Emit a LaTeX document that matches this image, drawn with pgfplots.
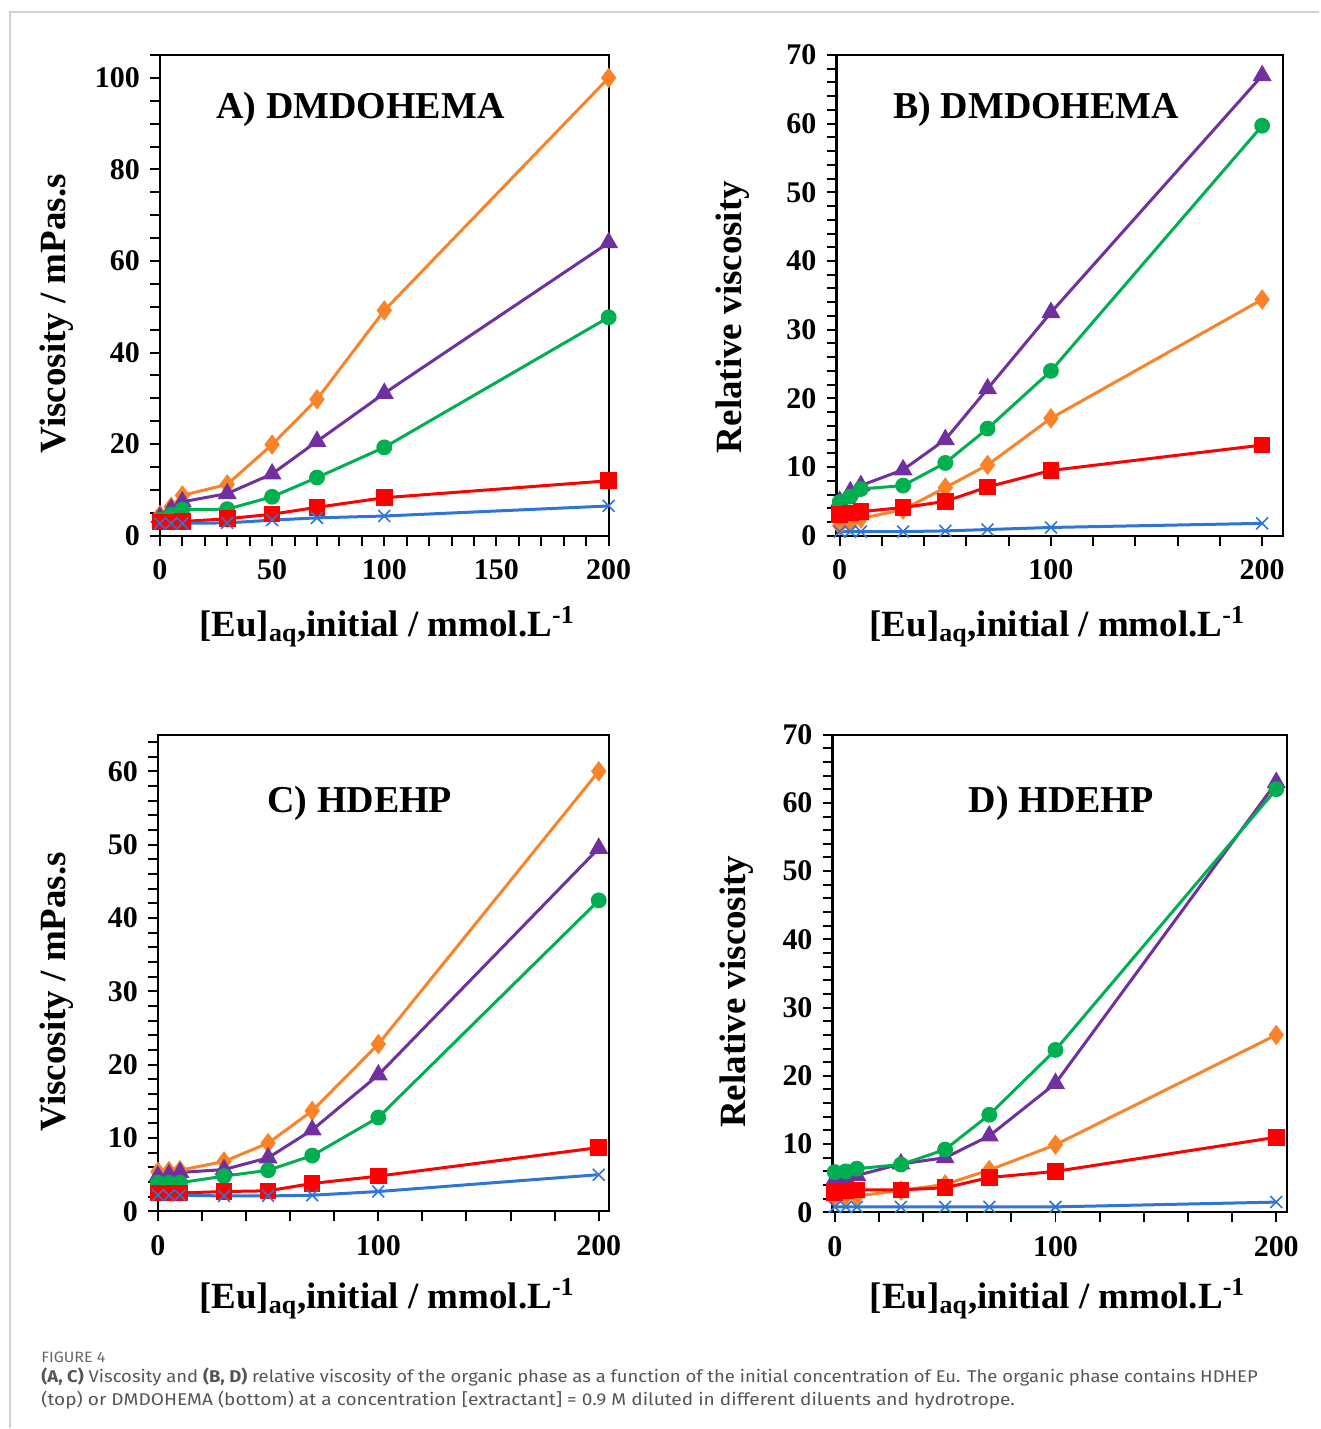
\documentclass[border=0pt]{standalone}
\usepackage{pgfplots}
\pgfplotsset{compat=1.18}
\usepackage{fontspec}
\setmainfont{Liberation Serif}
\newfontfamily\capfont{Fira Sans}

\definecolor{cOr}{RGB}{250,130,40}
\definecolor{cPu}{RGB}{112,48,160}
\definecolor{cGr}{RGB}{0,176,80}
\definecolor{cRe}{RGB}{255,0,0}
\definecolor{cBl}{RGB}{46,117,214}
\definecolor{capgray}{RGB}{85,85,85}

\pgfplotsset{
  panel/.style={
    scale only axis, anchor=south west, clip=false,
    tick align=outside, tick pos=left,
    major tick length=5pt, minor tick length=5pt,
    every tick/.style={black, line width=1pt},
    axis line style={line width=1.1pt},
    ymin=0,
    tick label style={font=\fontsize{15}{15}\selectfont\bfseries},
    xticklabel style={yshift=-3.5pt},
    yticklabel style={xshift=-1.5pt},
    /pgf/number format/assume math mode=true,
    label style={font=\fontsize{18.5}{18.5}\selectfont\bfseries},
    every axis plot/.append style={line width=1.5pt},
  },
  sOr/.style={color=cOr, mark=diamond*, mark size=3.9pt},
  sPu/.style={color=cPu, mark=triangle*, mark size=4pt},
  sGr/.style={color=cGr, mark=*, mark size=3.2pt},
  sRe/.style={color=cRe, mark=square*, mark size=3.4pt},
  sBl/.style={color=cBl, mark=x, mark size=4.2pt, mark options={line width=0.8pt}},
}

\newcommand{\xlab}{[Eu]\textsubscript{aq},initial / mmol.L\textsuperscript{-1}}
\newcommand{\ttl}{\fontsize{19}{19}\selectfont\bfseries}

\begin{document}
\begin{tikzpicture}
\path (0,0) rectangle (660pt,-714.5pt);
\draw[color=black!18, line width=0.8pt] (5pt,-714.5pt) -- (5pt,-6pt) -- (660pt,-6pt);

% (A) viscosity, DMDOHEMA
\begin{axis}[panel, at={(80pt,-268pt)}, width=224.5pt, height=240.5pt,
  xmin=0, xmax=200, ymax=105,
  xtick={0,50,...,200}, minor x tick num=4,
  ytick={0,20,...,100}, minor ytick={0,5,...,105},
  xlabel={\xlab}, ylabel={Viscosity / mPas.s},
  xlabel style={at={(axis description cs:0.506,-0.19)}, anchor=center},
  ylabel style={at={(axis description cs:-0.229,0.462)}, anchor=center},
]
\addplot[sOr] coordinates {(0,4.5)(5,6.3)(10,8.8)(30,11.2)(50,19.9)(70,29.8)(100,49.2)(200,100)};
\addplot[sPu] coordinates {(0,4)(5,5.8)(10,7.4)(30,9.2)(50,13.5)(70,20.6)(100,31.1)(200,64)};
\addplot[sGr] coordinates {(0,3.5)(5,4.6)(10,5.7)(30,5.8)(50,8.5)(70,12.7)(100,19.3)(200,47.7)};
\addplot[sRe] coordinates {(0,3)(5,3)(10,3.1)(30,3.7)(50,4.7)(70,6.2)(100,8.3)(200,12)};
\addplot[sBl] coordinates {(0,2.7)(5,2.7)(10,2.7)(30,2.8)(50,3.4)(70,3.9)(100,4.3)(200,6.5)};
\node[font=\ttl] at (axis description cs:0.447,0.887) {A) DMDOHEMA};
\end{axis}

% (B) relative viscosity, DMDOHEMA
\begin{axis}[panel, at={(418.5pt,-268pt)}, width=223.5pt, height=240.5pt,
  xmin=-1.5, xmax=210, ymax=70,
  xtick={0,100,200}, minor x tick num=4,
  ytick={0,10,...,70}, minor y tick num=4,
  xlabel={\xlab}, ylabel={Relative viscosity},
  xlabel style={at={(axis description cs:0.494,-0.19)}, anchor=center},
  ylabel style={at={(axis description cs:-0.233,0.455)}, anchor=center},
]
\addplot[sOr] coordinates {(0,1.5)(5,1.8)(10,2.5)(30,3.8)(50,7)(70,10.3)(100,17.1)(200,34.4)};
\addplot[sPu] coordinates {(0,5)(5,6.4)(10,7.3)(30,9.6)(50,14)(70,21.4)(100,32.5)(200,67)};
\addplot[sGr] coordinates {(0,4.9)(5,5.7)(10,6.8)(30,7.3)(50,10.6)(70,15.6)(100,24)(200,59.7)};
\addplot[sRe] coordinates {(0,3.1)(5,3.3)(10,3.5)(30,4.1)(50,5)(70,7.1)(100,9.5)(200,13.2)};
\addplot[sBl] coordinates {(0,0.6)(5,0.6)(10,0.6)(30,0.6)(50,0.7)(70,0.9)(100,1.2)(200,1.8)};
\node[font=\ttl] at (axis description cs:0.447,0.887) {B) DMDOHEMA};
\end{axis}

% (C) viscosity, HDEHP
\begin{axis}[panel, at={(79pt,-606pt)}, width=225.5pt, height=238.5pt,
  xmin=0, xmax=204.5, ymax=65,
  xtick={0,100,200}, minor x tick num=4,
  ytick={0,10,...,60}, minor ytick={0,2,...,64},
  xlabel={\xlab}, ylabel={Viscosity / mPas.s},
  xlabel style={at={(axis description cs:0.508,-0.183)}, anchor=center},
  ylabel style={at={(axis description cs:-0.224,0.461)}, anchor=center},
]
\addplot[sOr] coordinates {(0,5.4)(5,5.5)(10,5.6)(30,6.8)(50,9.3)(70,13.7)(100,22.8)(200,60)};
\addplot[sPu] coordinates {(0,4.8)(5,5)(10,5.3)(30,5.7)(50,7.3)(70,11.1)(100,18.6)(200,49.5)};
\addplot[sGr] coordinates {(0,3.9)(5,3.9)(10,3.9)(30,4.8)(50,5.6)(70,7.6)(100,12.8)(200,42.4)};
\addplot[sRe] coordinates {(0,2.5)(5,2.5)(10,2.5)(30,2.7)(50,2.8)(70,3.8)(100,4.8)(200,8.7)};
\addplot[sBl] coordinates {(0,2.2)(5,2.2)(10,2.2)(30,2.1)(50,2.1)(70,2.2)(100,2.7)(200,5)};
\node[font=\ttl] at (axis description cs:0.448,0.855) {C) HDEHP};
\end{axis}

% (D) relative viscosity, HDEHP
\begin{axis}[panel, at={(416.5pt,-606.5pt)}, width=227.5pt, height=239pt,
  xmin=-1, xmax=205, ymax=70,
  xtick={0,100,200}, minor x tick num=4,
  ytick={0,10,...,70}, minor y tick num=4,
  xlabel={\xlab}, ylabel={Relative viscosity},
  xlabel style={at={(axis description cs:0.495,-0.181)}, anchor=center},
  ylabel style={at={(axis description cs:-0.211,0.462)}, anchor=center},
]
\addplot[sOr] coordinates {(0,2.4)(5,2.4)(10,2.4)(30,3.2)(50,4.1)(70,6.2)(100,9.9)(200,26)};
\addplot[sPu] coordinates {(0,4.8)(5,5)(10,5.4)(30,7.1)(50,8)(70,11.2)(100,18.9)(200,63)};
\addplot[sGr] coordinates {(0,5.9)(5,6)(10,6.4)(30,7)(50,9.2)(70,14.3)(100,23.8)(200,62)};
\addplot[sRe] coordinates {(0,2.9)(5,3.1)(10,3.3)(30,3.3)(50,3.6)(70,5.1)(100,6)(200,11)};
\addplot[sBl] coordinates {(0,0.8)(5,0.8)(10,0.8)(30,0.8)(50,0.8)(70,0.8)(100,0.8)(200,1.5)};
\node[font=\ttl] at (axis description cs:0.503,0.856) {D) HDEHP};
\end{axis}

% caption
\node[anchor=base west, inner sep=0pt, text=black!60] at (20.5pt,-681.5pt)
  {\resizebox{32pt}{\height}{\capfont\fontsize{7.5}{7.5}\selectfont FIGURE 4}};
\node[anchor=base west, inner sep=0pt, text=capgray] at (20.5pt,-691.5pt)
  {\resizebox{608.5pt}{\height}{\capfont\fontsize{8.5}{8.5}\selectfont\textbf{(A, C)} Viscosity and \textbf{(B, D)} relative viscosity of the organic phase as a function of the initial concentration of Eu. The organic phase contains HDHEP}};
\node[anchor=base west, inner sep=0pt, text=capgray] at (20.5pt,-703pt)
  {\resizebox{487pt}{\height}{\capfont\fontsize{8.5}{8.5}\selectfont (top) or DMDOHEMA (bottom) at a concentration [extractant] = 0.9 M diluted in different diluents and hydrotrope.}};
\end{tikzpicture}
\end{document}
